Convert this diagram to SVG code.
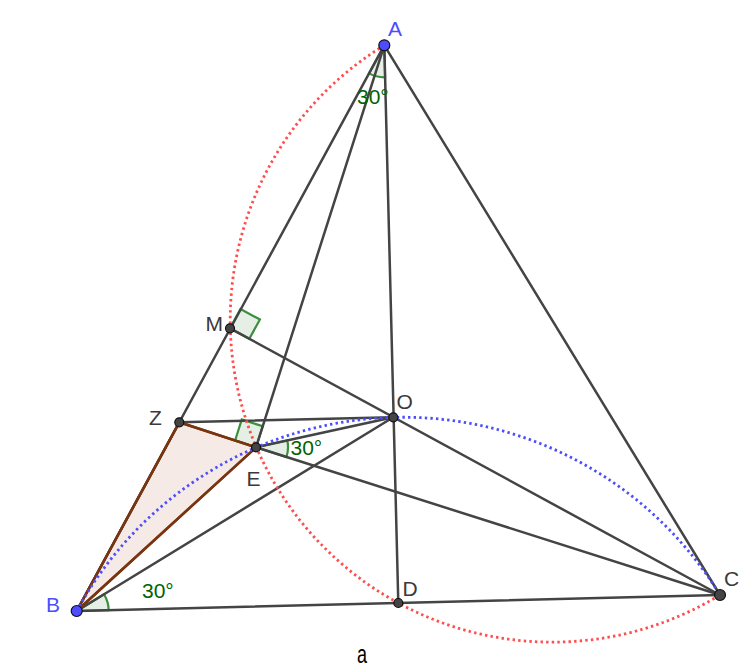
<svg xmlns="http://www.w3.org/2000/svg" width="746" height="668" viewBox="0 0 746 668">
<style>
.ln{stroke:#444;stroke-width:2.5;fill:none;stroke-linecap:round}
.br{stroke:#7a3510;stroke-width:2.5;fill:#993300;fill-opacity:0.1;stroke-linejoin:round}
.ang{fill:#006400;fill-opacity:0.1;stroke:#3c8f3c;stroke-width:2.2}
.red{stroke:#ff4d4d;stroke-width:2.8;fill:none;stroke-dasharray:2.4 3.2}
.blue{stroke:#4d4dff;stroke-width:2.8;fill:none;stroke-dasharray:2.4 3.2}
.pb{fill:#4d4dff;stroke:#111;stroke-width:1.2}
.pg{fill:#444;stroke:#111;stroke-width:1.2}
.lb{font-family:"Liberation Sans",Arial,sans-serif;font-size:21px;fill:#3a3a3a}
.lbb{font-family:"Liberation Sans",Arial,sans-serif;font-size:21px;fill:#4d4dff}
.al{font-family:"Liberation Sans",Arial,sans-serif;font-size:21px;fill:#006400}
</style>
<rect width="746" height="668" fill="#ffffff"/>
<g id="triangle-BZE">
<polygon class="br" points="76.7,611 179.3,422.3 256,447.3"/>
</g>
<g id="angles">
<path class="ang" d="M384.3,45.3 L369.0,73.4 A32,32 0 0 0 385.1,77.3 Z"/>
<path class="ang" d="M256,447.3 L287.3,440.5 A32,32 0 0 1 286.5,457.0 Z"/>
<path class="ang" d="M76.7,611 L104.0,594.3 A32,32 0 0 1 108.7,610.2 Z"/>
<polygon class="ang" points="230,328.3 240.5,309.0 259.9,319.5 249.3,338.8"/>
<polygon class="ang" points="256,447.3 235.1,440.5 241.8,419.5 262.7,426.3"/>
</g>
<g id="connectors">
<line class="ln" x1="384.3" y1="45.3" x2="76.7" y2="611"/>
<line class="ln" x1="384.3" y1="45.3" x2="720" y2="595"/>
<line class="ln" x1="76.7" y1="611" x2="720" y2="595"/>
<line class="ln" x1="384.3" y1="45.3" x2="398.3" y2="603"/>
<line class="ln" x1="384.3" y1="45.3" x2="256" y2="447.3"/>
<line class="ln" x1="230" y1="328.3" x2="720" y2="595"/>
<line class="ln" x1="179.3" y1="422.3" x2="393.3" y2="417.3"/>
<line class="ln" x1="256" y1="447.3" x2="393.3" y2="417.3"/>
<line class="ln" x1="256" y1="447.3" x2="720" y2="595"/>
<line class="ln" x1="76.7" y1="611" x2="393.3" y2="417.3"/>
<polygon points="76.7,611 179.3,422.3 256,447.3" fill="none" stroke="#7a3510" stroke-width="2.5" stroke-linejoin="round"/>
</g>
<g id="circles">
<path class="red" d="M384.3,45.3 A322.1,322.1 0 0 0 398.3,603 A322.1,322.1 0 0 0 720,595"/>
<path class="blue" d="M76.7,611 A371.6,371.6 0 0 1 720,595"/>
</g>
<g id="angle-labels">
<text class="al" x="357" y="103.5">30°</text>
<text class="al" x="290.5" y="455">30°</text>
<text class="al" x="142" y="597.5">30°</text>
</g>
<g id="node-A"><circle class="pb" cx="384.3" cy="45.3" r="5.5"/><text class="lbb" x="388" y="36">A</text></g>
<g id="node-B"><circle class="pb" cx="76.7" cy="611" r="5.5"/><text class="lbb" x="46" y="612">B</text></g>
<g id="node-C"><circle class="pg" cx="720" cy="595" r="5.5"/><text class="lb" x="724" y="585.5">C</text></g>
<g id="node-D"><circle class="pg" cx="398.3" cy="603" r="4.5"/><text class="lb" x="402.5" y="596">D</text></g>
<g id="node-O"><circle class="pg" cx="393.3" cy="417.3" r="4.5"/><text class="lb" x="396.5" y="409">O</text></g>
<g id="node-M"><circle class="pg" cx="230" cy="328.3" r="4.5"/><text class="lb" x="205.5" y="330.5">M</text></g>
<g id="node-Z"><circle class="pg" cx="179.3" cy="422.3" r="4.5"/><text class="lb" x="149" y="424.5">Z</text></g>
<g id="node-E"><circle class="pg" cx="256" cy="447.3" r="4.5"/><text class="lb" x="246.5" y="485.5">E</text></g>
<g id="caption"><text font-family="'Liberation Sans',Arial,sans-serif" font-size="25" fill="#000" transform="translate(357,663) scale(0.72,1)">a</text></g>
</svg>
